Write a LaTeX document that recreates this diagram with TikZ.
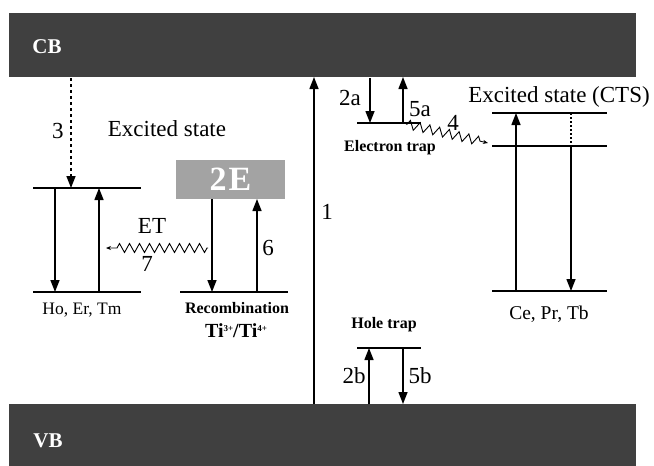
\documentclass[tikz,border=0pt]{standalone}
\usepackage{fontspec}
\setmainfont{Liberation Serif}
\usetikzlibrary{arrows.meta,decorations.pathmorphing}
\definecolor{band}{HTML}{404040}
\definecolor{boxgray}{HTML}{A3A3A3}
\begin{document}
\begin{tikzpicture}[x=1pt,y=-1pt,
  bandbox/.style={fill=band,draw=none,inner sep=0pt},
  lvl/.style={line width=1.6pt},
  arr/.style={line width=1.4pt,-{Triangle[length=12pt,width=9pt]}},
  wavy/.style={line width=0.9pt,decorate,decoration={zigzag,segment length=10pt,amplitude=4.5pt,post length=7pt,pre length=1pt}},
  lab/.style={font=\fontsize{23}{25}\selectfont,inner sep=1pt},
  small/.style={font=\fontsize{17.5}{19}\selectfont,inner sep=1pt},
  tiny/.style={font=\bfseries\fontsize{16}{17}\selectfont,inner sep=1pt},
  bandlab/.style={font=\bfseries\fontsize{21}{22}\selectfont,text=white,inner sep=0pt}]
\useasboundingbox (0,0) rectangle (654,466);
% bands
\node[bandbox,minimum width=627pt,minimum height=64pt,anchor=north west] (cb) at (9,13) {};
\node[bandbox,minimum width=627pt,minimum height=62pt,anchor=north west] (vb) at (9,404) {};
\node[bandlab] (cbl) at (47,47) {CB};
\node[bandlab] (vbl) at (48,441) {VB};
% arrow 1
\coordinate (a1s) at (314,404);
\coordinate (a1e) at (314,77);
\draw[arr] (a1s) -- (a1e);
\node[lab] (l1) at (327,212) {1};
% left: Ho, Er, Tm
\coordinate (hu1) at (33,188); \coordinate (hu2) at (141,188);
\coordinate (hl1) at (33,292); \coordinate (hl2) at (141,292);
\draw[lvl] (hu1) -- (hu2);
\draw[lvl] (hl1) -- (hl2);
\coordinate (d3s) at (71,78); \coordinate (d3e) at (71,188);
\draw[line width=1.4pt,dash pattern=on 3pt off 3pt,-{Triangle[length=12pt,width=9pt]}] (d3s) -- (d3e);
\node[lab] (l3) at (58,131) {3};
\node[lab] (exc) at (167,129) {Excited state};
\coordinate (hd1) at (55,188); \coordinate (hd2) at (55,292);
\draw[arr] (hd1) -- (hd2);
\coordinate (hup1) at (99,292); \coordinate (hup2) at (99,188);
\draw[arr] (hup1) -- (hup2);
\node[small] (ho) at (82,310) {Ho, Er, Tm};
% 2E
\node[fill=boxgray,minimum width=109pt,minimum height=39pt,inner sep=0pt,text=white,font=\bfseries\fontsize{34}{34}\selectfont] (e2) at (230.5,179.5) {2\kern2pt E};
\coordinate (rl1) at (180,292); \coordinate (rl2) at (288,292);
\draw[lvl] (rl1) -- (rl2);
\coordinate (rd1) at (212,199); \coordinate (rd2) at (212,292);
\draw[arr] (rd1) -- (rd2);
\coordinate (ru1) at (257,292); \coordinate (ru2) at (257,199);
\draw[arr] (ru1) -- (ru2);
\node[lab] (l6) at (268,248) {6};
\node[tiny] (rec) at (237,308) {Recombination};
\node[inner sep=1pt,font=\bfseries\fontsize{20}{20}\selectfont] (ti) at (236,331) {Ti{\fontsize{9}{9}\selectfont\raisebox{6pt}{3+}}/Ti{\fontsize{9}{9}\selectfont\raisebox{6pt}{4+}}};
% ET wavy
\coordinate (et1) at (208,248); \coordinate (et2) at (106,248);
\draw[wavy,-{Stealth[length=5pt,width=4pt]}] (et1) -- (et2);
\node[lab] (let) at (152,226) {ET};
\node[lab] (l7) at (147,264) {7};
% electron trap
\coordinate (etr1) at (357,123); \coordinate (etr2) at (421,123);
\draw[lvl] (etr1) -- (etr2);
\coordinate (a2s) at (370,78); \coordinate (a2e) at (370,123);
\draw[arr] (a2s) -- (a2e);
\coordinate (a5s) at (403,123); \coordinate (a5e) at (403,77);
\draw[arr] (a5s) -- (a5e);
\node[lab] (l2a) at (350,98) {2a};
\node[lab] (l5a) at (420,109) {5a};
\node[tiny] (etl) at (390,148) {Electron trap};
% CTS
\node[lab] (cts) at (559,97) {Excited state (CTS)};
\coordinate (c11) at (492,113); \coordinate (c12) at (607,113);
\coordinate (c21) at (492,146); \coordinate (c22) at (607,146);
\coordinate (c31) at (492,291); \coordinate (c32) at (607,291);
\draw[lvl] (c11) -- (c12);
\draw[line width=1.2pt] (c21) -- (c22);
\draw[lvl] (c31) -- (c32);
\coordinate (cu1) at (516,291); \coordinate (cu2) at (516,113);
\draw[arr] (cu1) -- (cu2);
\coordinate (cdt1) at (571,113); \coordinate (cdt2) at (571,146);
\draw[line width=1.2pt,dash pattern=on 2pt off 2pt] (cdt1) -- (cdt2);
\coordinate (cd2) at (571,291);
\draw[arr] (cdt2) -- (cd2);
\node[font=\fontsize{19.5}{21}\selectfont,inner sep=1pt] (ce) at (549,314) {Ce, Pr, Tb};
% wavy 4
\coordinate (w4s) at (406,124); \coordinate (w4e) at (488,143);
\draw[wavy,-{Stealth[length=5pt,width=4pt]}] (w4s) -- (w4e);
\node[lab] (l4) at (453,123) {4};
% hole trap
\node[tiny] (htl) at (384,325) {Hole trap};
\coordinate (ht1) at (357,348); \coordinate (ht2) at (421,348);
\draw[lvl] (ht1) -- (ht2);
\coordinate (b2s) at (369,404); \coordinate (b2e) at (369,348);
\draw[arr] (b2s) -- (b2e);
\coordinate (b5s) at (403,348); \coordinate (b5e) at (403,404);
\draw[arr] (b5s) -- (b5e);
\node[lab] (l2b) at (354,376) {2b};
\node[lab] (l5b) at (420,376) {5b};
\end{tikzpicture}
\end{document}
